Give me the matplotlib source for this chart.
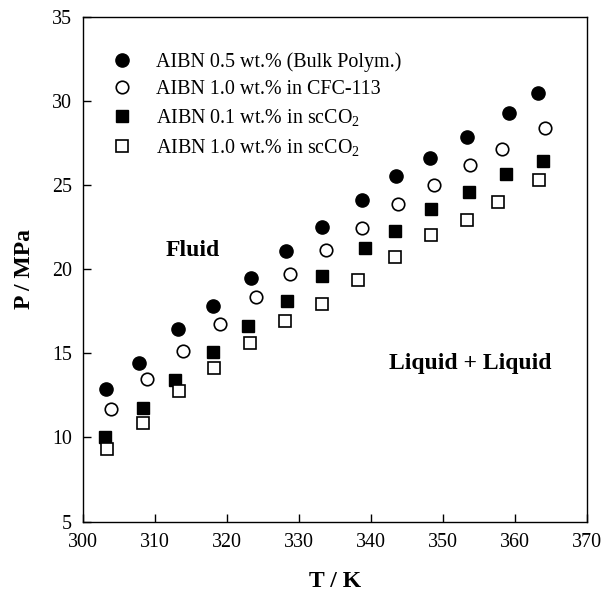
import matplotlib
matplotlib.use("Agg")
import matplotlib.pyplot as plt

plt.rcParams['font.family'] = ['Liberation Serif', 'DejaVu Serif']
plt.rcParams['mathtext.fontset'] = 'custom'
plt.rcParams['mathtext.rm'] = 'Liberation Serif'
plt.rcParams['mathtext.it'] = 'Liberation Serif:italic'

# AIBN 0.5 wt.% (bulk polymerization)
t_bulk = [303.2, 307.8, 313.2, 318.0, 323.3, 328.2, 333.2, 338.7, 343.5, 348.2, 353.3, 359.2, 363.2]
p_bulk = [12.88, 14.40, 16.42, 17.83, 19.48, 21.10, 22.52, 24.11, 25.51, 26.60, 27.87, 29.28, 30.47]

# AIBN 1.0 wt.% in CFC-113
t_cfc = [303.9, 308.9, 313.9, 319.0, 324.0, 328.7, 333.8, 338.7, 343.8, 348.8, 353.8, 358.2, 364.2]
p_cfc = [11.67, 13.44, 15.14, 16.74, 18.33, 19.70, 21.14, 22.42, 23.87, 25.00, 26.21, 27.14, 28.39]

# AIBN 0.1 wt.% in scCO2
t_co2a = [303.1, 308.3, 312.8, 318.1, 322.9, 328.3, 333.2, 339.1, 343.3, 348.4, 353.6, 358.7, 363.9]
p_co2a = [10.01, 11.75, 13.42, 15.10, 16.60, 18.13, 19.57, 21.24, 22.24, 23.59, 24.59, 25.65, 26.40]

# AIBN 1.0 wt.% in scCO2
t_co2b = [303.4, 308.3, 313.4, 318.2, 323.2, 328.1, 333.2, 338.2, 343.4, 348.4, 353.3, 357.6, 363.3]
p_co2b = [9.29, 10.86, 12.76, 14.11, 15.61, 16.94, 17.93, 19.36, 20.70, 22.01, 22.94, 23.97, 25.30]

labels = ['AIBN 0.5 wt.% (Bulk Polym.)',
          'AIBN 1.0 wt.% in CFC-113',
          'AIBN 0.1 wt.% in scCO$_2$',
          'AIBN 1.0 wt.% in scCO$_2$']

fig = plt.figure(figsize=(6.03, 5.94), dpi=100)
ax = fig.add_axes([0.1376, 0.122, 0.8359, 0.850])

ax.plot(t_bulk, p_bulk, 'o', ms=9.5, mfc='black', mec='black', label=labels[0])
ax.plot(t_cfc, p_cfc, 'o', ms=9.0, mfc='white', mec='black', mew=1.2, label=labels[1])
ax.plot(t_co2a, p_co2a, 's', ms=8.5, mfc='black', mec='black', label=labels[2])
ax.plot(t_co2b, p_co2b, 's', ms=8.2, mfc='white', mec='black', mew=1.2, label=labels[3])

ax.set_xlim(300, 370)
ax.set_ylim(5, 35)
ax.set_xticks(range(300, 371, 10))
ax.set_yticks(range(5, 36, 5))
ax.tick_params(direction='in', length=6, width=1, labelsize=14.4, pad=8,
               top=False, right=False)
for s in ax.spines.values():
    s.set_linewidth(1.0)

ax.set_xlabel('T / K', fontsize=17, fontweight='bold', labelpad=14)
ax.set_ylabel('P / MPa', fontsize=17, fontweight='bold', labelpad=12)

ax.text(315.3, 21.1, 'Fluid', fontsize=17, fontweight='bold', ha='center', va='center')
ax.text(353.75, 14.38, 'Liquid + Liquid', fontsize=17, fontweight='bold', ha='center', va='center')

ax.legend(loc='upper left', bbox_to_anchor=(0.042, 0.946), frameon=False,
          fontsize=14.4, handlelength=1.0, handletextpad=1.2, labelspacing=0.42,
          borderaxespad=0)

fig.savefig('out.png', dpi=100)
